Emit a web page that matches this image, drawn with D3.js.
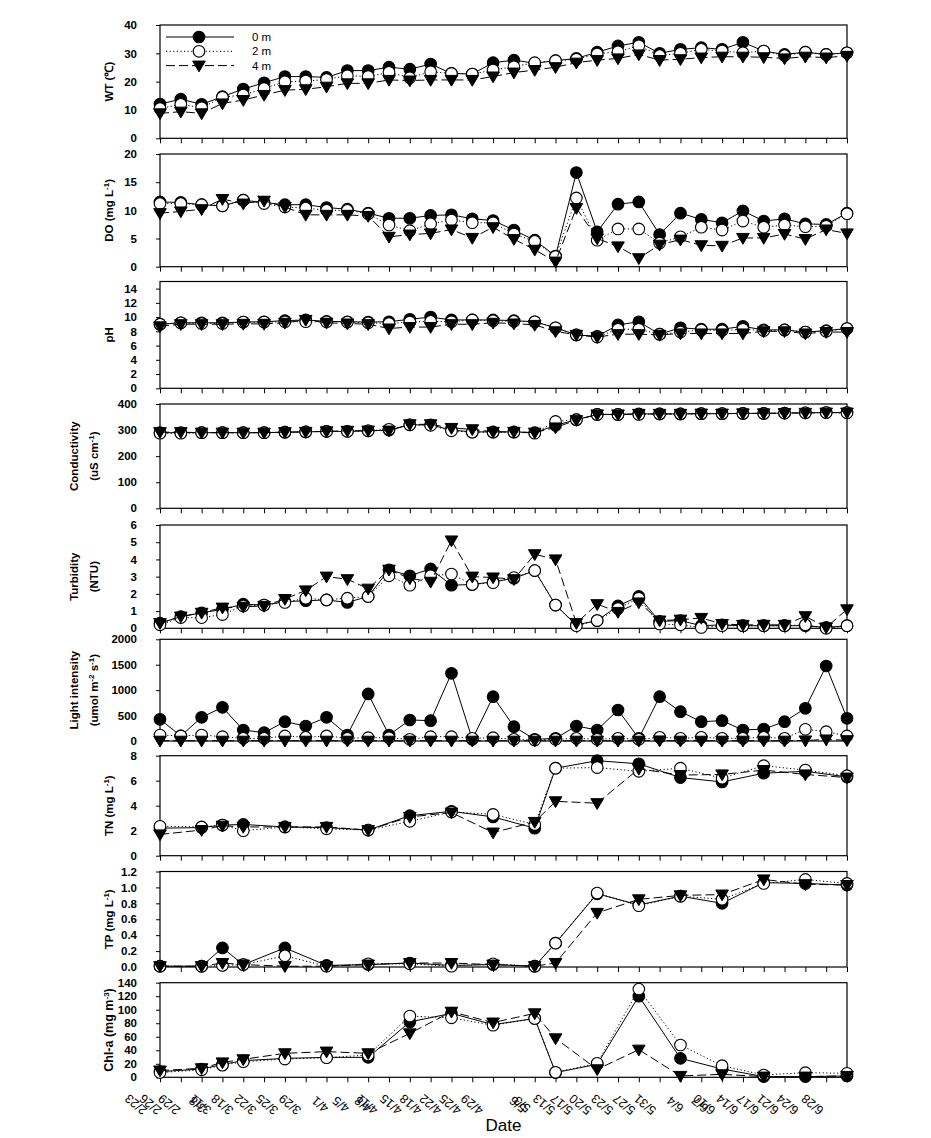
<!DOCTYPE html>
<html><head><meta charset="utf-8">
<script src="https://cdn.jsdelivr.net/npm/d3@7"></script>
<style>
body{margin:0;background:#fff}
svg{display:block}
text{font-family:"Liberation Sans",Arial,sans-serif}
</style></head>
<body><svg id="c" width="931" height="1138"></svg>
<script>
// ---------------- DATA ----------------
const nDates = 34;                       // sampling positions 0..33
const fullIdx = d3.range(nDates);
const sparseIdx = [0,2,3,4,6,8,10,12,14,16,18,19,21,23,25,27,29,31,33];
const seriesNames = ["0 m","2 m","4 m"];

const tickLabels = ["2/23","2/26","2/29","3/8","3/11","3/18","3/22","3/25","3/29","4/1","4/5","4/8","4/11","4/15","4/18","4/22","4/25","4/29","5/6","5/3","5/13","5/17","5/20","5/23","5/27","5/31","6/4","6/7","6/10","6/14","6/17","6/21","6/24","6/28"];
const tickLabelPos = [-1.15,-0.45,0.45,1.80,1.95,3.00,4.10,5.15,6.25,7.70,8.70,9.75,9.95,11.10,12.05,13.00,13.95,15.00,17.20,17.40,18.45,19.30,20.20,21.25,22.30,23.30,24.75,25.95,26.15,27.25,28.25,29.20,30.15,31.35];

const wt0 = [12.1,13.8,12,14.7,17.4,19.6,21.8,21.8,21.5,23.9,23.9,25.1,24.4,26.2,22.9,22.7,26.7,27.6,26.5,27.4,28.2,30.4,32.6,33.9,30,31.4,32,31.4,33.9,30.8,29.6,30.4,29.6,30.2];
const wt2 = [10.5,12,10.8,14.5,15.3,17.6,20,20.2,20.8,22.1,21.8,23.3,21.4,23.5,22.9,22.7,24.1,25.3,26.7,27.4,27.9,29.8,30.6,32.7,29.2,30,31.4,30.8,30.2,30.8,29.2,30.4,29.6,30.2];
const wt4 = [8.8,9.4,8.8,12.3,13.5,15.3,17,17.3,18.2,19.4,19.4,20.6,20.4,20.6,20.6,20.6,21.8,23.2,24.1,25.1,26.7,27.6,28.2,29.6,27.6,27.9,28.5,28.8,28.8,28.6,28.2,28.8,28.5,29.1];

const do0 = [11.5,11.4,11,10.8,11.8,11.4,11,11,10.5,10.2,9.5,8.6,8.6,9.1,9.2,8.5,8.2,6.5,4.7,1.9,16.7,6.2,11.1,11.5,5.7,9.5,8.4,7.8,9.9,8.1,8.5,7.6,7.5,9.5];
const do2 = [11.2,11.2,11,10.8,11.8,11.2,10.6,10.4,10,10,9.4,7.4,6.4,7.6,8.3,7.8,7.8,5.8,4.5,1.8,12.2,4.7,6.7,6.7,4.2,5.3,7,6.5,8.1,7,7.4,7.1,7.2,9.4];
const do4 = [9.5,9.8,10.2,12,11.2,11.7,10.6,9.2,9.2,9.2,9.0,5.3,5.7,5.9,6.6,5.1,7,4.9,3,0.9,10.4,5,3.6,1.5,3.9,4.8,3.8,3.7,5.1,5.1,5.8,4.9,6.6,5.9];

const ph0 = [9.0,9.2,9.2,9.2,9.3,9.35,9.5,9.6,9.4,9.35,9.3,9.35,9.7,10.0,9.6,9.6,9.6,9.5,9.35,8.5,7.5,7.3,8.9,9.35,7.6,8.5,8.3,8.3,8.7,8.2,8.2,7.9,8.1,8.4];
const ph2 = [9.0,9.2,9.1,9.1,9.3,9.3,9.35,9.35,9.35,9.3,9.2,9.1,9.3,9.4,9.35,9.6,9.5,9.4,9.35,8.5,7.5,7.2,8.3,8.3,7.6,7.9,8.2,8.1,8.3,8.1,8.2,7.9,8.0,8.4];
const ph4 = [8.7,9.0,9.0,9.0,9.05,9.05,9.2,9.6,9.2,9.1,9.0,8.4,8.6,8.6,9.0,9.0,9.2,9.1,8.9,8.0,7.5,7.2,7.6,7.6,7.5,7.7,7.7,7.7,7.7,8.0,8.0,7.7,7.9,7.9];

const cond0 = [290,290,290,290,290,290,292,293,295,295,297,300,320,320,300,293,293,293,290,318,340,360,360,362,362,362,363,363,364,364,365,366,367,367];
const cond2 = [288,288,290,290,290,290,292,293,295,295,297,303,320,318,297,292,292,292,288,333,340,360,360,360,362,362,363,363,364,364,365,366,367,366];
const cond4 = [292,292,290,290,290,290,292,293,295,297,298,298,322,322,308,303,293,293,290,310,338,360,360,362,362,362,363,363,364,364,365,366,367,367];

const turb0 = [0.3,0.68,0.9,1.1,1.4,1.35,1.55,1.6,1.65,1.5,1.85,3.4,3.05,3.45,2.5,2.55,2.7,2.9,3.35,1.35,0.2,0.45,1.3,1.85,0.4,0.45,0.15,0.2,0.15,0.15,0.15,0.15,0.05,0.15];
const turb2 = [0.2,0.62,0.62,0.8,1.3,1.35,1.5,1.75,1.65,1.75,1.85,3.05,2.5,3.05,3.15,2.55,2.65,2.95,3.35,1.35,0.15,0.45,1.15,1.75,0.25,0.2,0.05,0.15,0.15,0.15,0.15,0.2,0.0,0.15];
const turb4 = [0.3,0.68,0.9,1.2,1.25,1.3,1.7,2.2,3.0,2.85,2.3,3.4,2.9,2.7,5.1,3.0,2.95,2.85,4.3,4.0,0.3,1.4,0.95,1.5,0.45,0.5,0.6,0.25,0.2,0.2,0.2,0.7,0.05,1.1];

const light0 = [426,100,466,662,216,164,380,295,466,118,925,118,413,400,1331,33,872,282,33,52,295,216,610,52,872,577,380,400,216,236,380,643,1475,446];
const light2 = [118,100,118,85,52,52,100,72,100,52,65,65,33,85,85,52,65,33,20,33,52,33,52,33,72,52,72,52,52,72,52,230,184,100];
const light4 = [5,5,5,5,5,5,5,5,5,5,5,5,5,5,5,5,5,5,5,5,5,5,5,5,10,5,5,5,5,5,5,10,30,15];

const tn0 = [2.2,2.25,2.45,2.5,2.3,2.25,2.05,3.2,3.55,3.1,2.2,7.0,7.6,7.35,6.25,5.9,6.6,6.75,6.3];
const tn2 = [2.35,2.3,2.45,2.0,2.3,2.15,2.05,2.75,3.5,3.3,2.5,7.0,7.05,6.75,7.0,6.2,7.2,6.85,6.4];
const tn4 = [1.7,2.05,2.4,2.3,2.3,2.3,2.05,3.1,3.45,1.85,2.7,4.35,4.2,6.95,6.45,6.5,6.85,6.5,6.25];

const tp0 = [0.01,0.01,0.24,0.03,0.24,0.02,0.03,0.05,0.02,0.03,0.01,0.3,0.92,0.78,0.89,0.8,1.06,1.05,1.03];
const tp2 = [0.01,0.01,0.02,0.03,0.14,0.01,0.04,0.04,0.01,0.04,0.01,0.3,0.93,0.77,0.89,0.85,1.05,1.1,1.05];
const tp4 = [0.01,0.01,0.05,0.03,0.01,0.01,0.03,0.05,0.05,0.03,0.01,0.05,0.68,0.85,0.9,0.91,1.1,1.04,1.03];

const chl0 = [8.4,12.3,19,24.6,28,29.5,29.5,82,94.6,78,87,7,19.2,120,28,12.3,1,1,2];
const chl2 = [7,11,18,23,27,29,33,90.6,88,77,87,7.4,20.7,130.5,47.8,17.2,3.4,6.9,5.9];
const chl4 = [10,13.3,22,26.6,35.5,38,35.5,65,97,81,94.6,57.6,11.8,40.9,2,4.4,1,1,2];

const wtTicks = [0,10,20,30,40];
const doTicks = [0,5,10,15,20];
const phTicks = [0,2,4,6,8,10,12,14];
const condTicks = [0,100,200,300,400];
const turbTicks = [0,1,2,3,4,5,6];
const lightTicks = [0,500,1000,1500,2000];
const tnTicks = [0,2,4,6,8];
const tpTicks = [0,0.2,0.4,0.6,0.8,1.0,1.2];
const chlTicks = [0,20,40,60,80,100,120,140];

// ---------------- LAYOUT ----------------
const svg = d3.select("#c");
const X0 = 160, X1 = 847;
const x = d3.scaleLinear().domain([0, nDates-1]).range([X0, X1]);

const panels = [
  {top:25,  bot:138.3, dom:[0,40],   ticks:wtTicks,   fmt:d3.format("d"), idx:fullIdx, s:[wt0,wt2,wt4],
   title:[[["WT (℃)"]]], tx:[113], legend:true},
  {top:154, bot:266.7, dom:[0,20],   ticks:doTicks,   fmt:d3.format("d"), idx:fullIdx, s:[do0,do2,do4],
   title:[[["DO (mg L"],["-1",1],[")"]]], tx:[113]},
  {top:281.5,bot:388.3, dom:[0,15],  ticks:phTicks,   fmt:d3.format("d"), idx:fullIdx, s:[ph0,ph2,ph4],
   title:[[["pH"]]], tx:[113]},
  {top:404, bot:508.3, dom:[0,400],  ticks:condTicks, fmt:d3.format("d"), idx:fullIdx, s:[cond0,cond2,cond4],
   title:[[["Conductivity"]],[["(uS cm"],["-1",1],[")"]]], tx:[78,98]},
  {top:525, bot:628.3, dom:[0,6],    ticks:turbTicks, fmt:d3.format("d"), idx:fullIdx, s:[turb0,turb2,turb4],
   title:[[["Turbidity"]],[["(NTU)"]]], tx:[78,98]},
  {top:639.3,bot:741,  dom:[0,2000], ticks:lightTicks,fmt:d3.format("d"), idx:fullIdx, s:[light0,light2,light4],
   title:[[["Light intensity"]],[["(umol m"],["-2",1],[" s"],["-1",1],[")"]]], tx:[78,98]},
  {top:755.7,bot:855.7,dom:[0,8],    ticks:tnTicks,   fmt:d3.format("d"), idx:sparseIdx, s:[tn0,tn2,tn4],
   title:[[["TN (mg L"],["-1",1],[")"]]], tx:[113]},
  {top:871.5,bot:967,  dom:[0,1.2],  ticks:tpTicks,   fmt:d3.format(".1f"), idx:sparseIdx, s:[tp0,tp2,tp4],
   title:[[["TP (mg L"],["-1",1],[")"]]], tx:[113]},
  {top:982.7,bot:1077.3,dom:[0,140], ticks:chlTicks,  fmt:d3.format("d"), idx:sparseIdx, s:[chl0,chl2,chl4],
   title:[[["Chl-a (mg m"],["-3",1],[")"]]], tx:[113], big:true}
];

const styles = [
  {dash:null,      fill:"#000", shape:"circle"},
  {dash:"1.2,2.4", fill:"#fff", shape:"circle"},
  {dash:"9,4",     fill:"#000", shape:"tri"}
];

function drawMarker(g, cx, cy, st){
  if(st.shape==="circle"){
    g.append("circle").attr("cx",cx).attr("cy",cy).attr("r",5.8)
      .attr("fill",st.fill).attr("stroke","#000").attr("stroke-width",1.1);
  } else {
    const w=6.3, h=10.8;
    g.append("path").attr("d",`M${cx-w},${cy-h*0.42}L${cx+w},${cy-h*0.42}L${cx},${cy+h*0.58}Z`)
      .attr("fill",st.fill).attr("stroke","#000").attr("stroke-width",1);
  }
}

panels.forEach(p=>{
  const y = d3.scaleLinear().domain(p.dom).range([p.bot, p.top]);
  const g = svg.append("g");

  g.append("rect").attr("x",X0).attr("y",p.top).attr("width",X1-X0).attr("height",p.bot-p.top)
    .attr("fill","none").attr("stroke","#000").attr("stroke-width",1.2);

  const ax = g.append("g").attr("transform",`translate(0,${p.bot})`)
    .call(d3.axisBottom(x).tickValues(fullIdx).tickSize(5).tickFormat(""));
  ax.select(".domain").remove();
  ax.selectAll("line").attr("stroke","#000");

  const ay = g.append("g").attr("transform",`translate(${X0},0)`)
    .call(d3.axisLeft(y).tickValues(p.ticks).tickSize(4).tickPadding(19).tickFormat(p.fmt));
  ay.select(".domain").remove();
  ay.selectAll("text").attr("font-family","Liberation Sans, Arial, sans-serif")
    .attr("font-size",11.5).attr("font-weight","bold").attr("fill","#000");
  ay.selectAll("line").attr("stroke","#000");

  const cy = (p.top+p.bot)/2;
  p.title.forEach((line,li)=>{
    const t = g.append("text").attr("transform",`translate(${p.tx[li]},${cy}) rotate(-90)`)
      .attr("text-anchor","middle").attr("font-weight","bold")
      .attr("font-size", p.big?12.5:11.5).attr("fill","#000");
    line.forEach(part=>{
      const ts = t.append("tspan").text(part[0]);
      if(part[1]) ts.attr("baseline-shift","super").attr("font-size",8);
    });
  });

  p.s.forEach((vals,si)=>{
    const st = styles[si];
    const pts = vals.map((v,i)=>[x(p.idx[i]), y(v)]);
    const path = g.append("path").attr("d", d3.line()(pts))
      .attr("fill","none").attr("stroke","#000").attr("stroke-width",1);
    if(st.dash) path.attr("stroke-dasharray",st.dash);
    const mg = g.append("g");
    pts.forEach(pt=>drawMarker(mg, pt[0], pt[1], st));
  });

  if(p.legend){
    seriesNames.forEach((nm,i)=>{
      const ly = 37 + i*14.3;
      const st = styles[i];
      const l = g.append("line").attr("x1",166).attr("x2",234).attr("y1",ly).attr("y2",ly)
        .attr("stroke","#000").attr("stroke-width",1);
      if(st.dash) l.attr("stroke-dasharray",st.dash);
      drawMarker(g, 199, ly, st);
      g.append("text").attr("x",252).attr("y",ly+4).attr("font-size",11.5).attr("fill","#000").text(nm);
    });
  }
});

const lastBot = panels[panels.length-1].bot;
const lg = svg.append("g");
tickLabels.forEach((lab,i)=>{
  const cx = x(tickLabelPos[i]);
  lg.append("text").attr("transform",`translate(${cx},${lastBot+27}) rotate(-140)`)
    .attr("text-anchor","middle").attr("dominant-baseline","central")
    .attr("font-size",12.5).attr("fill","#000").text(lab);
});
svg.append("text").attr("x",(X0+X1)/2).attr("y",lastBot+54).attr("text-anchor","middle")
  .attr("font-size",17).attr("fill","#000").text("Date");
</script></body></html>
